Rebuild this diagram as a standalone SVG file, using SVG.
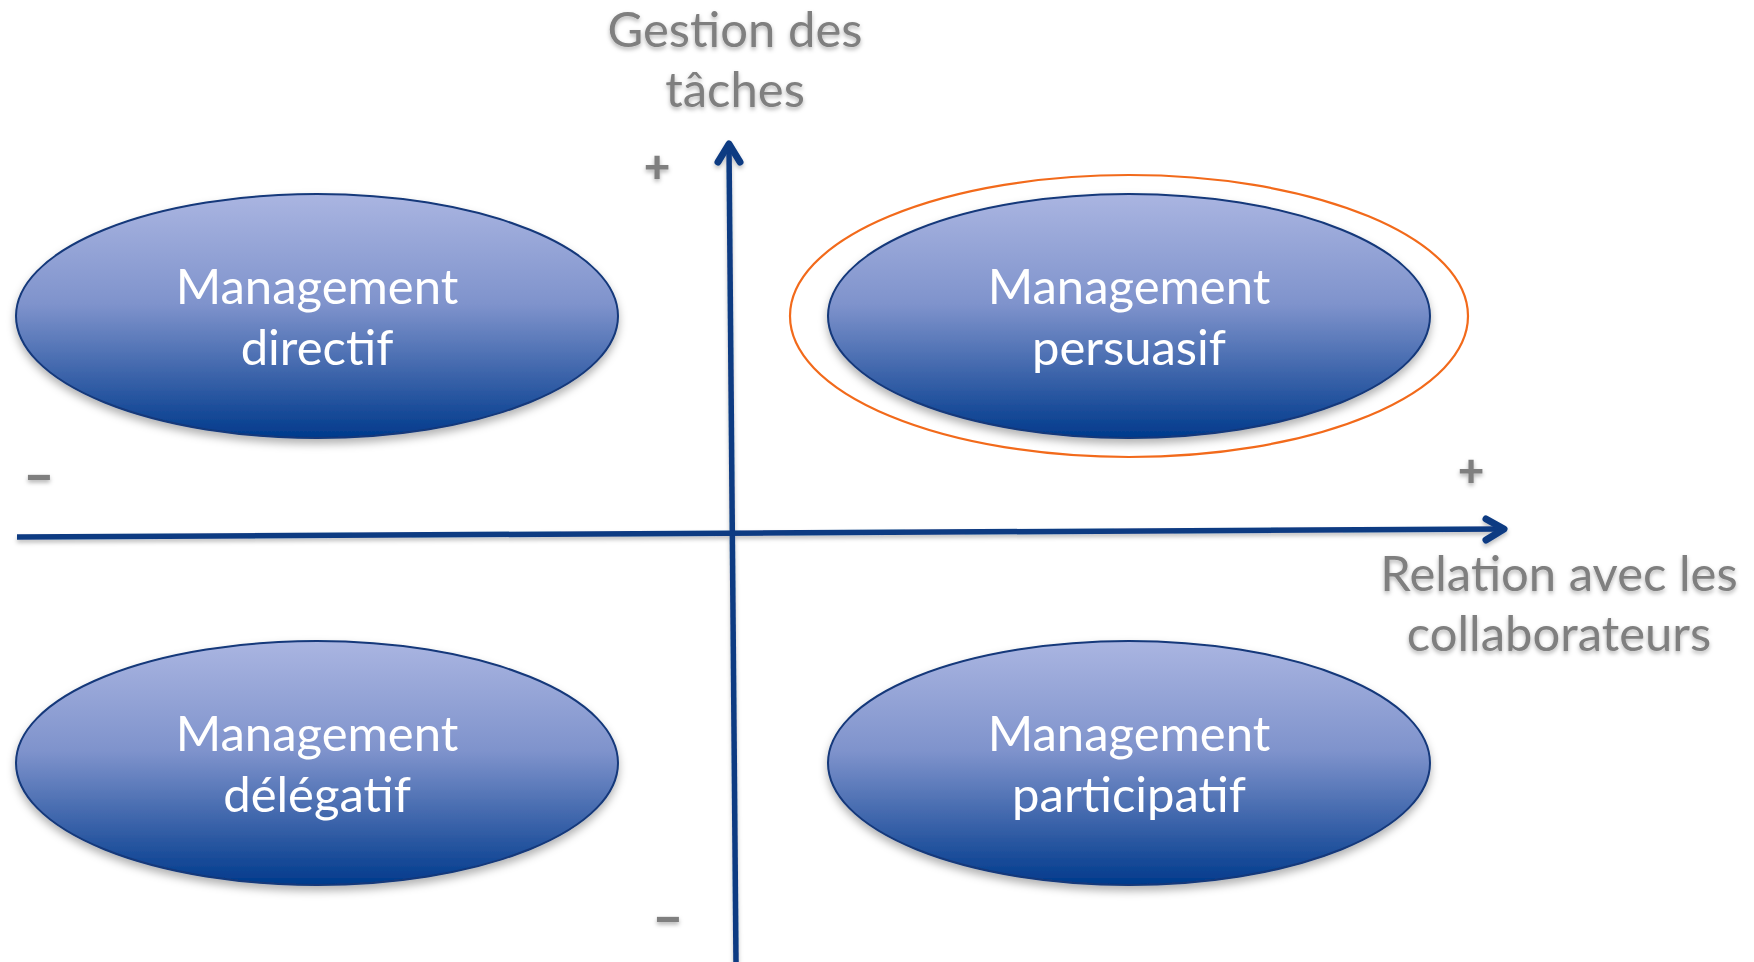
<svg xmlns="http://www.w3.org/2000/svg" width="1754" height="962" viewBox="0 0 1754 962">
  <defs>
    <linearGradient id="blueGrad" x1="0" y1="0" x2="0" y2="1">
      <stop offset="0" stop-color="#aab5e1"/>
      <stop offset="0.45" stop-color="#7f93cc"/>
      <stop offset="1" stop-color="#003a8c"/>
    </linearGradient>
    <filter id="shadow" x="-10%" y="-10%" width="120%" height="130%">
      <feDropShadow dx="0" dy="5" stdDeviation="4" flood-color="#000" flood-opacity="0.3"/>
    </filter>
    <filter id="tshadow" x="-10%" y="-20%" width="120%" height="150%">
      <feDropShadow dx="0" dy="2.5" stdDeviation="2" flood-color="#000" flood-opacity="0.3"/>
    </filter>
    <filter id="lshadow" filterUnits="userSpaceOnUse" x="0" y="0" width="1754" height="962">
      <feDropShadow dx="0" dy="3" stdDeviation="2" flood-color="#000" flood-opacity="0.25"/>
    </filter>
  </defs>
  <style>
    .node ellipse.main { fill: url(#blueGrad); stroke: #13387a; stroke-width: 2; filter: url(#shadow); }
    .node text { font-family: "Lato", "Open Sans", sans-serif; font-size: 49px; fill: #ffffff; text-anchor: middle; }
    .axis { stroke: #0c3a82; stroke-width: 5.5; fill: none; stroke-linecap: butt; }
    .head { stroke: #0c3a82; stroke-width: 7; fill: none; stroke-linecap: round; stroke-linejoin: round; }
    .lbl { font-family: "Lato", "Open Sans", sans-serif; font-size: 49px; fill: #7f7f7f; text-anchor: middle; filter: url(#tshadow); }
    .sign { font-family: "Lato", "DejaVu Sans", sans-serif; font-weight: 900; fill: #7f7f7f; text-anchor: middle; filter: url(#tshadow); }
    .plus { font-size: 46px; }
    .minus { font-size: 54px; }
  </style>

  <g id="connectors" filter="url(#lshadow)">
    <line class="axis" x1="736" y1="962" x2="729" y2="147"/>
    <path class="head" d="M 718 162 L 729 144 L 740 162"/>
    <line class="axis" x1="17" y1="537" x2="1502" y2="529"/>
    <path class="head" d="M 1486 519 L 1504 529 L 1486 540"/>
  </g>

  <g id="node-directif" class="node">
    <ellipse class="main" cx="317" cy="316" rx="301" ry="122"/>
    <text x="317" y="304">Management</text>
    <text x="317" y="365">directif</text>
  </g>

  <g id="node-persuasif" class="node">
    <ellipse cx="1129" cy="316" rx="339" ry="141" fill="none" stroke="#f26a1b" stroke-width="2.2"/>
    <ellipse class="main" cx="1129" cy="316" rx="301" ry="122"/>
    <text x="1129" y="304">Management</text>
    <text x="1129" y="365">persuasif</text>
  </g>

  <g id="node-delegatif" class="node">
    <ellipse class="main" cx="317" cy="763" rx="301" ry="122"/>
    <text x="317" y="751">Management</text>
    <text x="317" y="812">délégatif</text>
  </g>

  <g id="node-participatif" class="node">
    <ellipse class="main" cx="1129" cy="763" rx="301" ry="122"/>
    <text x="1129" y="751">Management</text>
    <text x="1129" y="812">participatif</text>
  </g>

  <g id="axis-labels">
    <text class="lbl" x="735" y="47">Gestion des</text>
    <text class="lbl" x="735" y="107">tâches</text>
    <text class="lbl" x="1559" y="591">Relation avec les</text>
    <text class="lbl" x="1559" y="651">collaborateurs</text>
    <text class="sign plus" x="657" y="183">+</text>
    <text class="sign plus" x="1471" y="487">+</text>
    <text class="sign minus" x="39" y="494">–</text>
    <text class="sign minus" x="668" y="936">–</text>
  </g>
</svg>
